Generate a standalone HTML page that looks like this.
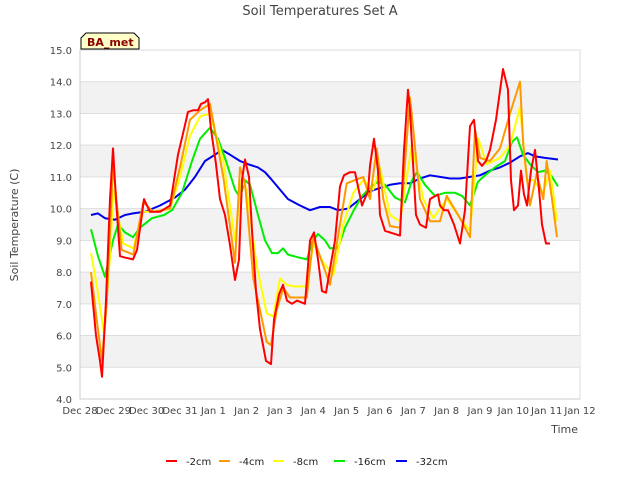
<!DOCTYPE html>
<html><head><meta charset="utf-8"><style>
body{margin:0;background:#fff;}
svg text{font-family:"DejaVu Sans","Liberation Sans",sans-serif;}
</style></head><body>
<svg id="c" width="640" height="480" xmlns="http://www.w3.org/2000/svg">
<text x="320" y="15" text-anchor="middle" font-size="13" fill="#444">Soil Temperatures Set A</text>
<text transform="translate(18,225) rotate(-90)" text-anchor="middle" font-size="11" fill="#444">Soil Temperature (C)</text>
<text x="578" y="433" text-anchor="end" font-size="11" fill="#444">Time</text>
<g id="grid"></g><g id="series"></g><g id="ticks"></g>
<g><path d="M81,49 L81,38 L86,33 L134,33 L139,38 L139,49 Z" fill="#ffffc8" stroke="#000" stroke-width="1"/><text x="87" y="46" font-size="11" font-weight="bold" fill="#8b0000">BA_met</text></g>
<g id="legend"></g>
</svg>
<script>
const yTicks=[4,5,6,7,8,9,10,11,12,13,14,15];
const xTickLabels=["Dec 28","Dec 29","Dec 30","Dec 31","Jan 1","Jan 2","Jan 3","Jan 4","Jan 5","Jan 6","Jan 7","Jan 8","Jan 9","Jan 10","Jan 11","Jan 12"];
const seriesNames=["-2cm","-4cm","-8cm","-16cm","-32cm"];
const seriesColors=["#ff0000","#ff9900","#ffff00","#00ee00","#0000ee"];
const redT=[0.33,0.48,0.6,0.66,0.78,0.9,0.99,1.08,1.2,1.38,1.59,1.71,1.83,1.92,2.01,2.1,2.4,2.7,2.82,2.94,3.12,3.24,3.39,3.54,3.63,3.75,3.84,3.93,4.08,4.2,4.35,4.5,4.65,4.77,4.86,4.95,5.07,5.16,5.28,5.4,5.58,5.73,5.82,5.97,6.09,6.21,6.36,6.51,6.75,6.9,7.02,7.14,7.26,7.38,7.5,7.65,7.8,7.92,8.1,8.25,8.46,8.64,8.7,8.82,8.94,9.0,9.15,9.3,9.6,9.72,9.84,9.9,10.02,10.08,10.2,10.38,10.5,10.74,10.8,10.92,11.04,11.22,11.4,11.55,11.7,11.82,11.94,12.06,12.18,12.3,12.48,12.69,12.84,12.93,13.02,13.14,13.23,13.32,13.41,13.53,13.65,13.77,13.86,13.98,14.1,14.22,14.31];
const redV=[7.7,6.0,5.2,4.7,7.1,10.3,11.9,10.3,8.5,8.45,8.4,8.7,9.6,10.3,10.1,9.9,9.9,10.1,10.9,11.7,12.5,13.05,13.1,13.1,13.3,13.35,13.45,12.5,11.4,10.3,9.8,8.85,7.75,8.4,10.9,11.55,11.0,9.3,7.4,6.2,5.2,5.1,6.5,7.3,7.6,7.1,7.0,7.1,7.0,9.0,9.25,8.4,7.4,7.35,8.1,9.0,10.7,11.05,11.15,11.15,10.1,10.55,11.35,12.2,11.2,9.8,9.3,9.25,9.15,11.85,13.75,13.1,10.9,9.8,9.5,9.4,10.3,10.45,10.1,9.95,9.95,9.5,8.9,9.95,12.6,12.8,11.5,11.35,11.5,11.85,12.8,14.4,13.75,10.9,9.95,10.1,11.2,10.45,10.1,11.2,11.85,10.6,9.5,8.9,8.9];
const orangeT=[0.33,0.5,0.66,0.8,0.99,1.1,1.25,1.6,1.9,2.2,2.7,3.0,3.3,3.6,3.9,4.3,4.65,4.8,4.95,5.2,5.6,5.73,5.9,6.1,6.3,6.8,7.0,7.2,7.5,7.8,8.0,8.5,8.7,8.9,9.1,9.3,9.6,9.9,10.0,10.2,10.5,10.8,11.0,11.4,11.7,11.85,12.0,12.3,12.6,12.9,13.2,13.3,13.5,13.7,13.9,14.0,14.2,14.31];
const orangeV=[8.0,6.5,5.2,7.0,11.4,10.2,8.7,8.55,10.2,9.9,10.0,11.3,12.8,13.1,13.3,11.0,8.3,11.3,10.8,7.8,5.8,5.7,6.8,7.5,7.2,7.2,9.1,8.5,7.6,9.5,10.8,11.0,10.3,11.9,10.3,9.45,9.4,13.5,12.5,10.3,9.6,9.6,10.4,9.7,9.1,12.5,11.6,11.5,11.9,13.0,14.0,12.0,10.1,11.1,10.3,11.5,10.0,9.1];
const yellowT=[0.33,0.5,0.72,0.9,1.0,1.1,1.3,1.6,1.9,2.2,2.7,3.0,3.3,3.6,3.9,4.3,4.65,4.85,5.0,5.3,5.6,5.8,6.0,6.2,6.4,6.8,7.0,7.3,7.6,7.9,8.2,8.5,8.8,9.0,9.3,9.6,9.95,10.3,10.6,11.0,11.4,11.7,11.95,12.2,12.6,12.9,13.2,13.4,13.6,13.9,14.1,14.31];
const yellowV=[8.6,7.6,6.05,8.5,10.6,10.0,8.9,8.75,9.9,9.9,10.0,11.0,12.3,12.9,13.0,11.5,9.0,10.9,10.6,8.2,6.7,6.6,7.8,7.6,7.55,7.55,8.9,8.3,7.9,9.5,10.5,10.9,10.6,11.3,9.8,9.6,12.0,10.3,9.7,10.3,9.7,9.3,12.2,11.4,11.6,12.0,13.2,10.9,10.9,10.5,11.2,9.6];
const greenT=[0.33,0.54,0.75,0.99,1.14,1.35,1.59,1.8,2.16,2.52,2.76,3.06,3.36,3.6,3.9,4.14,4.38,4.65,4.8,4.95,5.1,5.34,5.55,5.76,5.94,6.09,6.24,6.6,6.81,6.96,7.14,7.35,7.5,7.74,7.95,8.19,8.43,8.64,8.94,9.15,9.45,9.75,9.96,10.11,10.35,10.65,10.95,11.25,11.46,11.7,11.94,12.15,12.45,12.75,12.96,13.11,13.29,13.5,13.74,13.95,14.13,14.34];
const greenV=[9.35,8.5,7.85,9.0,9.5,9.25,9.1,9.4,9.7,9.8,9.95,10.5,11.5,12.2,12.55,12.2,11.5,10.6,10.35,10.9,10.75,9.8,9.0,8.6,8.6,8.75,8.55,8.45,8.4,8.95,9.2,9.0,8.75,8.75,9.4,9.9,10.35,10.6,10.85,10.75,10.35,10.2,10.9,11.15,10.75,10.4,10.5,10.5,10.4,10.1,10.85,11.05,11.3,11.5,12.1,12.25,11.7,11.4,11.15,11.2,11.05,10.7];
const blueT=[0.33,0.54,0.75,1.05,1.35,1.59,1.95,2.4,2.85,3.15,3.45,3.75,4.05,4.26,4.5,4.8,5.04,5.34,5.55,5.76,6.0,6.24,6.6,6.9,7.2,7.5,7.74,8.04,8.34,8.7,9.0,9.3,9.6,9.9,10.2,10.5,10.8,11.1,11.4,11.7,12.0,12.3,12.6,12.9,13.2,13.44,13.65,13.95,14.34];
const blueV=[9.8,9.85,9.7,9.65,9.8,9.85,9.9,10.1,10.35,10.6,11.0,11.5,11.7,11.85,11.7,11.5,11.4,11.3,11.15,10.9,10.6,10.3,10.1,9.95,10.05,10.05,9.95,10.0,10.25,10.55,10.65,10.75,10.8,10.8,10.95,11.05,11.0,10.95,10.95,11.0,11.05,11.2,11.3,11.45,11.65,11.75,11.65,11.6,11.55];
const allT=[redT,orangeT,yellowT,greenT,blueT], allV=[redV,orangeV,yellowV,greenV,blueV];
const L=80,R=580,T=50,B=399;
const xs=t=>L+t*(R-L)/15, ys=v=>B-(v-4)*(B-T)/11;
const NS="http://www.w3.org/2000/svg";
function mk(tag,attrs,parent){const e=document.createElementNS(NS,tag);for(const k in attrs)e.setAttribute(k,attrs[k]);parent.appendChild(e);return e;}
const grid=document.getElementById('grid'),ticks=document.getElementById('ticks'),ser=document.getElementById('series'),leg=document.getElementById('legend');
const bg=mk('rect',{x:L,y:T,width:R-L,height:B-T,fill:'#fff',stroke:'#ddd'},grid);


for(let v=5;v<15;v+=2){const b=mk('rect',{x:L,y:ys(v+1),width:R-L,height:ys(v)-ys(v+1),fill:'#f2f2f2'},grid);

}
yTicks.forEach(v=>{const g=mk('line',{x1:L,x2:R,y1:ys(v),y2:ys(v),stroke:'#ddd'},grid);


const t=mk('text',{x:72,y:ys(v)+4,'text-anchor':'end','font-size':10,fill:'#444'},ticks);t.textContent=v.toFixed(1);

});
mk('line',{x1:L,x2:L,y1:T,y2:B,stroke:'#ccc'},grid);mk('line',{x1:L,x2:R,y1:B,y2:B,stroke:'#ccc'},grid);
xTickLabels.forEach((s,i)=>{const t=mk('text',{x:xs(i),y:414,'text-anchor':'middle','font-size':10,fill:'#444'},ticks);t.textContent=s;

});
[4,3,2,1,0].forEach(i=>{const d=allT[i].map((t,j)=>(j?'L':'M')+xs(t).toFixed(1)+','+ys(allV[i][j]).toFixed(1)).join(' ');
const p=mk('path',{d:d,fill:'none',stroke:seriesColors[i],'stroke-width':2,'stroke-linejoin':'round'},ser);

});
const lx=[166,219,273,334,396];
seriesNames.forEach((n,i)=>{const g=mk('g',{},leg);


mk('line',{x1:lx[i],x2:lx[i]+11,y1:461,y2:461,stroke:seriesColors[i],'stroke-width':2},g);
const t=mk('text',{x:lx[i]+20,y:465,'font-size':10,fill:'#222'},g);t.textContent=n;});
</script>
</body></html>
